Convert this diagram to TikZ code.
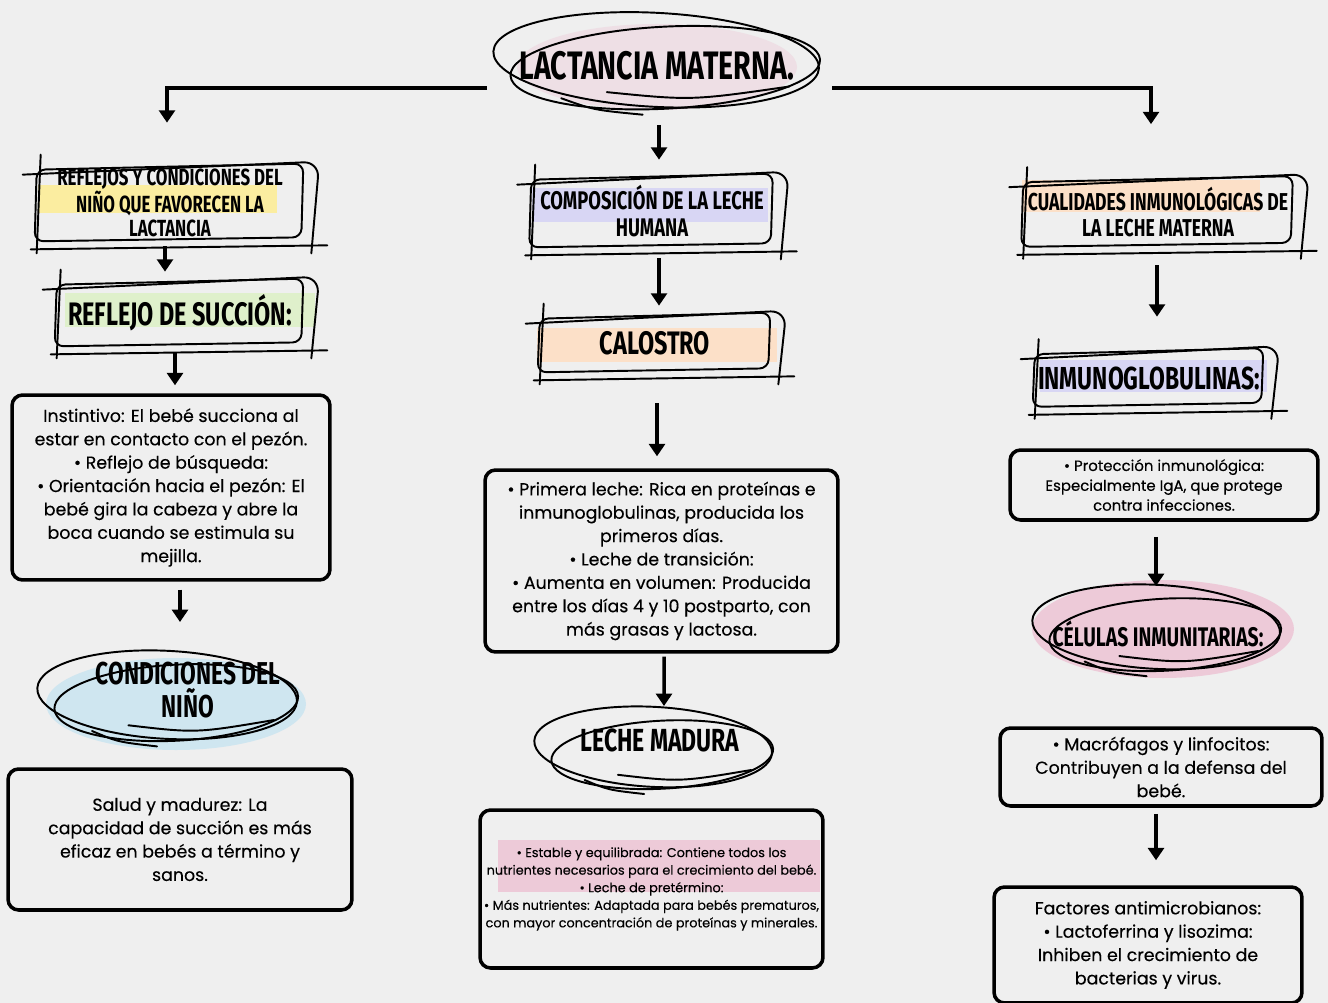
\documentclass[tikz,border=0pt]{standalone}
\usepackage{fontspec}
\setmainfont{Poppins}[FakeBold=0.3]
\newfontfamily\manof[FakeStretch=0.72]{Fira Sans}
\usepackage{tikz}
\usetikzlibrary{arrows.meta, calc, shapes.geometric}
\usepackage{xcolor}

\definecolor{fondo}{HTML}{EFEFEF}
\definecolor{rosa}{HTML}{EEDFE5}
\definecolor{rosafuerte}{HTML}{EDCAD8}
\definecolor{amarillo}{HTML}{FBEDA0}
\definecolor{verde}{HTML}{DFF0CB}
\definecolor{lila}{HTML}{D8D6F4}
\definecolor{durazno}{HTML}{FCE0C8}
\definecolor{celeste}{HTML}{CFE6F0}

\pgfdeclarelayer{bg}
\pgfsetlayers{bg,main}

\newcommand{\hfont}[2]{\manof\bfseries\fontsize{#1}{#2}\selectfont}

% hand drawn frame round a node
\newcommand{\marco}[1]{%
  \draw[trazo, rounded corners=5pt] ($(#1.north west)+(2,3)$) -- ($(#1.north east)+(-2,-3)$) -- ($(#1.south east)+(-4,-2)$) -- ($(#1.south west)+(0,2)$) -- cycle;
  \draw[trazo, rounded corners=9pt] ($(#1.north west)+(-12,8)$) -- ($(#1.north east)+(14,-5)$) -- ($(#1.south east)+(6,14)$);
  \draw[trazo] ($(#1.south west)+(-4,10)$) -- ($(#1.south east)+(22,6)$);
  \draw[trazo] ($(#1.north west)+(6,-12)$) -- ($(#1.south west)+(2,14)$);
}
% scribbled ellipse
\newcommand{\garabato}[3]{%
  \draw[trazo, rotate around={-3:(#1)}] ($(#1)+(-3,-3)$) ellipse [x radius=#2, y radius=#3];
  \draw[trazo, rotate around={3:(#1)}] ($(#1)+(6,5)$) ellipse [x radius=#2-8, y radius=#3-6];
  \draw[trazo] ($(#1)+(-0.32*#2,0.62*#3)$) .. controls ($(#1)+(0.2*#2,0.8*#3)$) .. ($(#1)+(0.8*#2,0.5*#3)$);
  \draw[trazo] ($(#1)+(-0.6*#2,0.75*#3)$) .. controls ($(#1)+(-0.4*#2,1.0*#3)$) .. ($(#1)+(-0.1*#2,1.1*#3)$);
}

\begin{document}
\begin{tikzpicture}[x=0.02cm, y=-0.02cm, >={Triangle[width=9pt,length=7pt]}]
    \tikzstyle{trazo} = [line width=1.1pt, line cap=round, line join=round]
    \tikzstyle{flecha} = [->, line width=2pt]
    \tikzstyle{caja} = [draw, line width=2pt, rounded corners=6pt, align=center, inner sep=2pt, font=\fontsize{9.9}{13.3}\selectfont]
    \tikzstyle{rotulo} = [align=center, inner sep=0pt]
    \useasboundingbox (0,0) rectangle (1328,1003);

    \node [rotulo, font=\hfont{22.6}{24}] at (657,66) (tit) {LACTANCIA MATERNA.};

    % left column
    \node [rotulo, minimum width=5.4cm, minimum height=1.44cm, font=\hfont{13.3}{14}] at (170,203) (refl) {REFLEJOS Y CONDICIONES DEL\\NIÑO QUE FAVORECEN LA\\LACTANCIA};
    \node [rotulo, minimum width=5cm, minimum height=1.24cm, font=\hfont{18.5}{18}] at (180,313) (succ) {REFLEJO DE SUCCIÓN:};
    \node [caja, minimum width=6.36cm, minimum height=3.7cm] at (171,487.5) (inst) {Instintivo: El bebé succiona al\\estar en contacto con el pezón.\\• Reflejo de búsqueda:\\• Orientación hacia el pezón: El\\bebé gira la cabeza y abre la\\boca cuando se estimula su\\mejilla.};
    \node [rotulo, font=\hfont{18}{18.7}] at (188,690) (cond) {CONDICIONES DEL\\NIÑO};
    \node [caja, minimum width=6.88cm, minimum height=2.82cm] at (180,839.5) (salud) {Salud y madurez: La\\capacidad de succión es más\\eficaz en bebés a término y\\sanos.};

    % middle column
    \node [rotulo, minimum width=4.9cm, minimum height=1.36cm, font=\hfont{14.5}{15.3}] at (652,211) (comp) {COMPOSICIÓN DE LA LECHE\\HUMANA};
    \node [rotulo, minimum width=4.68cm, minimum height=1.08cm, font=\hfont{18.5}{20}] at (655,343) (calo) {CALOSTRO};
    \node [caja, minimum width=7.06cm, minimum height=3.64cm] at (661.5,561) (prim) {• Primera leche: Rica en proteínas e\\inmunoglobulinas, producida los\\primeros días.\\• Leche de transición:\\• Aumenta en volumen: Producida\\entre los días 4 y 10 postparto, con\\más grasas y lactosa.};
    \node [rotulo, font=\hfont{18.2}{20}] at (660,740) (madu) {LECHE MADURA};
    \node [caja, minimum width=6.86cm, minimum height=3.16cm, font=\fontsize{7.3}{10}\selectfont] at (651.5,889) (esta) {• Estable y equilibrada: Contiene todos los\\nutrientes necesarios para el crecimiento del bebé.\\• Leche de pretérmino:\\• Más nutrientes: Adaptada para bebés prematuros,\\con mayor concentración de proteínas y minerales.};

    % right column
    \node [rotulo, minimum width=5.46cm, minimum height=1.3cm, font=\hfont{13.9}{15.3}] at (1158,212) (cual) {CUALIDADES INMUNOLÓGICAS DE\\LA LECHE MATERNA};
    \node [rotulo, minimum width=4.64cm, minimum height=1.06cm, font=\hfont{18.1}{20}] at (1149,378) (inmu) {INMUNOGLOBULINAS:};
    \node [caja, minimum width=6.16cm, minimum height=1.4cm, font=\fontsize{8.5}{11.3}\selectfont] at (1164,485) (prot) {• Protección inmunológica:\\Especialmente IgA, que protege\\contra infecciones.};
    \node [rotulo, font=\hfont{15.3}{16}] at (1158,634) (celu) {CÉLULAS INMUNITARIAS:};
    \node [caja, minimum width=6.44cm, minimum height=1.56cm] at (1161,767) (macr) {• Macrófagos y linfocitos:\\Contribuyen a la defensa del\\bebé.};
    \node [caja, minimum width=6.16cm, minimum height=2.32cm] at (1148,945) (fact) {Factores antimicrobianos:\\• Lactoferrina y lisozima:\\Inhiben el crecimiento de\\bacterias y virus.};

    % scribbles
    \coordinate (eTit) at ($(tit)+(2,-3)$);
    \coordinate (eCond) at ($(cond)+(-18,8)$);
    \coordinate (eMadu) at ($(madu)+(-4,10)$);
    \coordinate (eCelu) at ($(celu)+(1,-4)$);
    \garabato{eTit}{163}{47}
    \garabato{eCond}{130}{44}
    \garabato{eMadu}{119}{40}
    \garabato{eCelu}{124}{42}
    \marco{refl}
    \marco{succ}
    \marco{comp}
    \marco{calo}
    \marco{cual}
    \marco{inmu}

    \begin{pgfonlayer}{bg}
        \fill[fondo] (0,0) rectangle (1328,1003);
        \fill[rosa] (657,67) ellipse [x radius=140, y radius=43];
        \fill[amarillo] (38,185) rectangle (277,213);
        \fill[verde] (65,293) rectangle (315,327);
        \fill[lila] (532,188) rectangle (768,222);
        \fill[durazno] (537,328) rectangle (777,362);
        \fill[durazno] (1022,180) rectangle (1260,212);
        \fill[lila] (1040,360) rectangle (1267,392);
        \fill[celeste] (176,704) ellipse [x radius=130, y radius=46];
        \fill[rosafuerte] (1163,629) ellipse [x radius=131, y radius=49];
        \fill[rosafuerte] (498,840) rectangle (820,892);
    \end{pgfonlayer}

    \draw[flecha] ($(eTit)+(-172,25)$) -| ($(refl.north)+(-3,-44)$);
    \draw[flecha] ($(eTit)+(173,25)$) -| ($(cual.north)+(-7,-55)$);
    \draw[flecha] ($(eTit)+(0,62)$) -- ($(comp.north)+(7,-17)$);
    \draw[flecha] ($(refl.south)+(-5,7)$) -- ($(succ.north)+(-15,-10)$);
    \draw[flecha] ($(succ.south)+(-5,8)$) -- ($(inst.north)+(4,-8)$);
    \draw[flecha] ($(inst.south)+(9,8)$) -- ($(eCond)+(10,-76)$);
    \draw[flecha] ($(comp.south)+(7,13)$) -- ($(calo.north)+(4,-10)$);
    \draw[flecha] ($(calo.south)+(2,33)$) -- ($(prim.north)+(-4.5,-12)$);
    \draw[flecha] ($(prim.south)+(2.5,3)$) -- ($(eMadu)+(8,-44)$);
    \draw[flecha] ($(cual.south)+(-1,20.5)$) -- ($(inmu.north)+(8,-34.5)$);
    \draw[flecha] ($(prot.south)+(-8,15)$) -- ($(eCelu)+(-3,-44)$);
    \draw[flecha] ($(macr.south)+(-5,6)$) -- ($(fact.north)+(8,-25)$);
\end{tikzpicture}
\end{document}
